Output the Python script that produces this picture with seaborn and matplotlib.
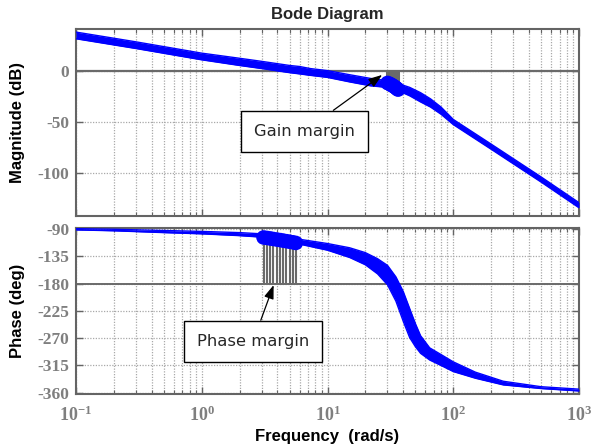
import numpy as np
import pandas as pd
import matplotlib
matplotlib.use("Agg")
import matplotlib.pyplot as plt
import seaborn as sns
from matplotlib.ticker import LogLocator, FixedLocator, FixedFormatter, NullFormatter

# ---------------- data ----------------
mag_freq = [0.1, 0.3, 1.0, 2.0, 3.0, 5.0, 6.0, 7.3, 10, 15, 22, 28, 33, 38, 45, 55, 66, 80, 100, 200, 500, 1000]
mag_upper = [37.5, 28, 17, 12, 9, 5, 4, 2, 0, -4, -7.6, -9.3, -10.8, -13.3, -16.3, -21.5, -27.5, -35.5, -47.5, -71.5, -103.5, -128.5]
mag_lower = [31, 21.5, 10.5, 5, 2, -2, -3.2, -4.6, -6.6, -11, -14.8, -16, -18, -20.5, -24.5, -30.5, -35.5, -42.5, -52.5, -76.5, -108.5, -133.5]

phase_freq = [0.1, 0.2, 0.5, 1.0, 2.0, 3.0, 4.0, 6.0, 10, 15, 20, 25, 30, 35, 40, 45, 50, 55, 65, 80, 100, 150, 250, 500, 1000]
phase_upper = [-89.5, -90.5, -92.5, -94, -96, -98, -100.5, -107, -114, -121, -129, -139, -150, -169, -193, -221, -246, -266, -286, -297, -309, -326, -341, -350, -354]
phase_lower = [-91.5, -93, -96, -98, -101, -103.5, -106.5, -115, -125, -137, -149, -164, -182, -209, -242, -269, -284, -295, -306, -315, -325, -336, -347, -353, -357]

# gain-margin crossings (phase crossover frequency, magnitude there)
gm_freq = [30.0, 30.8, 31.6, 32.4, 33.2, 34.0, 34.8, 35.6, 36.4]
gm_mag = [-12.0, -12.6, -13.3, -14.0, -14.8, -15.6, -16.5, -17.5, -18.5]
# phase-margin crossings (gain crossover frequency, phase there)
pm_freq = [3.1, 3.3, 3.5, 3.7, 3.95, 4.2, 4.45, 4.7, 5.0, 5.3, 5.6]
pm_phase = [-104, -104.8, -105.6, -106.5, -107.4, -108.3, -109.2, -110.1, -111, -112, -113]

mag_ticks = [0, -50, -100]
mag_tick_labels = ["0", "-50", "-100"]
phase_ticks = [-90, -135, -180, -225, -270, -315, -360]
phase_tick_labels = ["-90", "-135", "-180", "-225", "-270", "-315", "-360"]
freq_ticks = [0.1, 1, 10, 100, 1000]
freq_tick_labels = [r"$\mathrm{10^{-1}}$", r"$\mathrm{10^{0}}$", r"$\mathrm{10^{1}}$",
                    r"$\mathrm{10^{2}}$", r"$\mathrm{10^{3}}$"]

# ---------------- style ----------------
sns.set_theme(style="white")
plt.rcParams["font.family"] = ["Liberation Sans", "DejaVu Sans"]
plt.rcParams["mathtext.fontset"] = "custom"
plt.rcParams["mathtext.rm"] = "Liberation Serif:bold"
plt.rcParams["mathtext.bf"] = "Liberation Serif:bold"
plt.rcParams["mathtext.it"] = "Liberation Serif:bold:italic"

BLUE = "#0000ff"
FRAME = "#646464"
TICKC = "#7f7f7f"
GRIDC = "#a9a9a9"
MARG = "#6a6a6a"

fig = plt.figure(figsize=(5.92, 4.48), dpi=100)
W, H = 592.0, 448.0
ax1 = fig.add_axes([76 / W, 1 - 216 / H, 503 / W, 187 / H])
ax2 = fig.add_axes([76 / W, 1 - 394 / H, 503 / W, 166 / H])

mag_df = pd.DataFrame({"f": mag_freq * 2, "v": mag_upper + mag_lower,
                       "edge": ["u"] * len(mag_freq) + ["l"] * len(mag_freq)})
ph_df = pd.DataFrame({"f": phase_freq * 2, "v": phase_upper + phase_lower,
                      "edge": ["u"] * len(phase_freq) + ["l"] * len(phase_freq)})

for ax in (ax1, ax2):
    ax.set_xscale("log")
    ax.set_xlim(0.1, 1000)
    ax.xaxis.set_major_locator(LogLocator(base=10))
    ax.xaxis.set_minor_locator(LogLocator(base=10, subs=np.arange(2, 10)))
    ax.xaxis.set_minor_formatter(NullFormatter())
    ax.grid(which="major", axis="both", color=GRIDC, ls=(0, (1, 1.2)), lw=0.9)
    ax.grid(which="minor", axis="x", color=GRIDC, ls=(0, (1, 1.2)), lw=0.9)
    ax.tick_params(which="both", direction="in", top=True, right=True, bottom=True, left=True,
                   color=FRAME)
    ax.tick_params(which="major", length=5, width=1)
    ax.tick_params(which="minor", length=3, width=0.8)
    ax.tick_params(axis="y", labelsize=12.5, labelcolor=TICKC, pad=5)
    ax.tick_params(axis="x", labelsize=13, labelcolor=TICKC, pad=8)
    for s in ax.spines.values():
        s.set_color(FRAME)
        s.set_linewidth(1.5)

# ---------------- magnitude ----------------
ax1.set_ylim(-141.5, 40.5)
ax1.axhline(0, color=MARG, lw=1.6, zorder=1.5)
ax1.fill_between(mag_freq, mag_lower, mag_upper, color=BLUE, lw=0, zorder=3)
sns.lineplot(data=mag_df, x="f", y="v", units="edge", estimator=None, color=BLUE, lw=1.0,
             ax=ax1, legend=False, zorder=3)
ax1.vlines(gm_freq, gm_mag, 0, color=MARG, lw=2.2, zorder=2.5)
sns.scatterplot(x=gm_freq, y=gm_mag, s=110, color=BLUE, edgecolor="none", ax=ax1, zorder=4,
                legend=False)
ax1.yaxis.set_major_locator(FixedLocator(mag_ticks))
ax1.yaxis.set_major_formatter(FixedFormatter(mag_tick_labels))
ax1.tick_params(axis="x", labelbottom=False)
ax1.set_xlabel("")
ax1.set_ylabel("Magnitude (dB)", fontsize=12, fontweight="bold", color="black")
ax1.yaxis.set_label_coords(-0.101, 0.5)
ax1.set_title("Bode Diagram", fontsize=12, fontweight="bold", pad=7.5)

# ---------------- phase ----------------
ax2.set_ylim(-362, -88.4)
ax2.axhline(-180, color=MARG, lw=1.4, zorder=1.5)
ax2.fill_between(phase_freq, phase_lower, phase_upper, color=BLUE, lw=0, zorder=3)
sns.lineplot(data=ph_df, x="f", y="v", units="edge", estimator=None, color=BLUE, lw=1.0,
             ax=ax2, legend=False, zorder=3)
ax2.vlines(pm_freq, -180, pm_phase, color=MARG, lw=1.5, zorder=2.5)
sns.scatterplot(x=pm_freq, y=pm_phase, s=110, color=BLUE, edgecolor="none", ax=ax2, zorder=4,
                legend=False)
ax2.yaxis.set_major_locator(FixedLocator(phase_ticks))
ax2.yaxis.set_major_formatter(FixedFormatter(phase_tick_labels))
ax2.xaxis.set_major_locator(FixedLocator(freq_ticks))
ax2.xaxis.set_major_formatter(FixedFormatter(freq_tick_labels))
ax2.set_ylabel("Phase (deg)", fontsize=12, fontweight="bold", color="black")
ax2.yaxis.set_label_coords(-0.101, 0.5)
ax2.set_xlabel("Frequency  (rad/s)", fontsize=12, fontweight="bold", color="black")
ax2.xaxis.set_label_coords(0.5, -0.21)

for ax in (ax1, ax2):
    for lab in ax.get_yticklabels():
        lab.set_fontfamily(["Liberation Serif", "DejaVu Serif"])
        lab.set_fontweight("bold")

# ---------------- annotations ----------------
box = dict(boxstyle="square,pad=0.8", fc="white", ec="black", lw=1.0)
arrow = dict(arrowstyle="-|>,head_length=0.7,head_width=0.25", color="black", lw=0.9,
             shrinkA=0, shrinkB=0)
ax1.annotate("Gain margin", xy=(27.2, -4.2), xytext=(6.53, -59.2), textcoords="data",
             ha="center", va="center", fontsize=11.8, family=["DejaVu Sans"],
             bbox=box, arrowprops=arrow, zorder=6)
ax2.annotate("Phase margin", xy=(3.73, -182.4), xytext=(2.56, -275.2), textcoords="data",
             ha="center", va="center", fontsize=11.8, family=["DejaVu Sans"],
             bbox=box, arrowprops=arrow, zorder=6)

fig.savefig("out.png", dpi=100)
